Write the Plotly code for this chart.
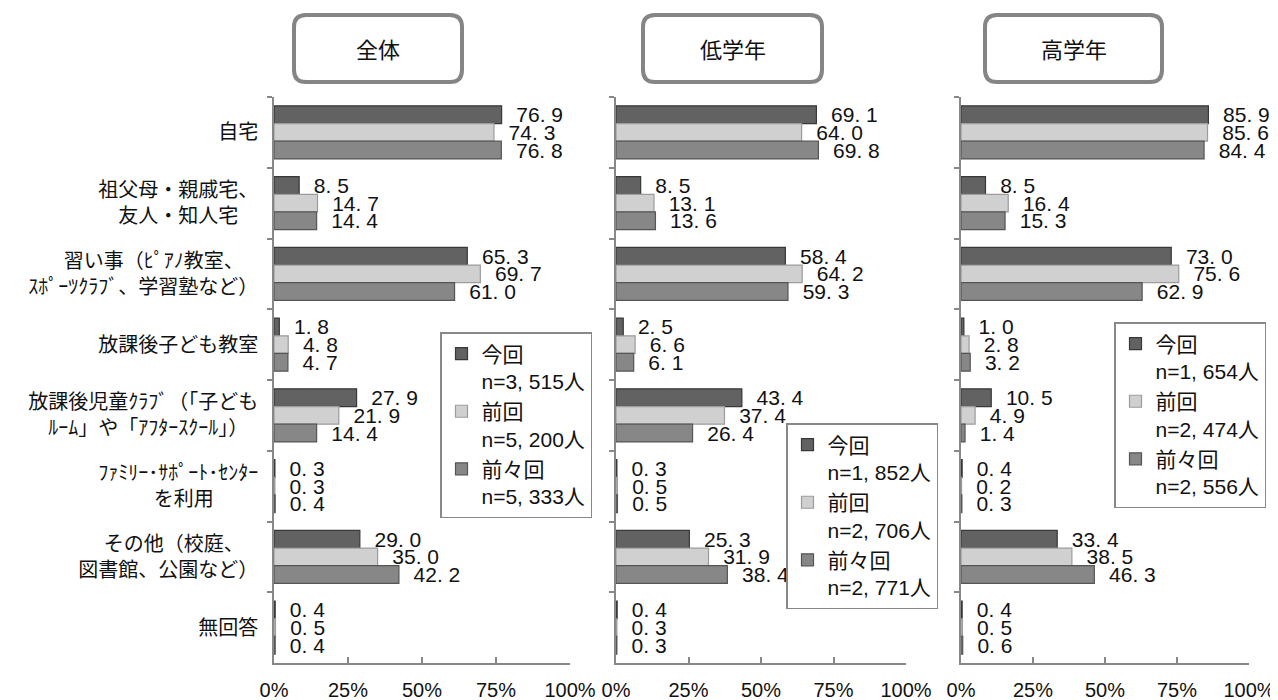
import plotly.graph_objects as go

# The page body has an 8px margin, so the figure is drawn 8px in from the window edge.
OFF = 8
W, H = 1278 - OFF, 700 - OFF

categories = [
    "自宅",
    "祖父母・親戚宅、<br>友人・知人宅\u3000",
    "習い事（ﾋﾟｱﾉ教室、\u3000\u00a0<br>ｽﾎﾟｰﾂｸﾗﾌﾞ、学習塾など）",
    "放課後子ども教室",
    "放課後児童ｸﾗﾌﾞ（「子ども<br>ﾙｰﾑ」や「ｱﾌﾀｰｽｸｰﾙ」）\u3000",
    "ﾌｧﾐﾘｰ･ｻﾎﾟｰﾄ･ｾﾝﾀｰ<br>を利用\u3000\u3000\u00a0",
    "その他（校庭、\u3000\u00a0<br>図書館、公園など）",
    "無回答",
]

series_names = ["今回", "前回", "前々回"]
panel_titles = ["全体", "低学年", "高学年"]

# 全体
all_now = [76.9, 8.5, 65.3, 1.8, 27.9, 0.3, 29.0, 0.4]
all_prev = [74.3, 14.7, 69.7, 4.8, 21.9, 0.3, 35.0, 0.5]
all_prev2 = [76.8, 14.4, 61.0, 4.7, 14.4, 0.4, 42.2, 0.4]
all_n = ["3, 515", "5, 200", "5, 333"]

# 低学年
low_now = [69.1, 8.5, 58.4, 2.5, 43.4, 0.3, 25.3, 0.4]
low_prev = [64.0, 13.1, 64.2, 6.6, 37.4, 0.5, 31.9, 0.3]
low_prev2 = [69.8, 13.6, 59.3, 6.1, 26.4, 0.5, 38.4, 0.3]
low_n = ["1, 852", "2, 706", "2, 771"]

# 高学年
high_now = [85.9, 8.5, 73.0, 1.0, 10.5, 0.4, 33.4, 0.4]
high_prev = [85.6, 16.4, 75.6, 2.8, 4.9, 0.2, 38.5, 0.5]
high_prev2 = [84.4, 15.3, 62.9, 3.2, 1.4, 0.3, 46.3, 0.6]
high_n = ["1, 654", "2, 474", "2, 556"]

x_ticks = [0, 25, 50, 75, 100]
x_tick_labels = ["0%", "25%", "50%", "75%", "100%"]

panels = [
    (all_now, all_prev, all_prev2, all_n),
    (low_now, low_prev, low_prev2, low_n),
    (high_now, high_prev, high_prev2, high_n),
]

fill_colors = ["#626262", "#d0d0d0", "#878787"]
line_colors = ["#383838", "#9c9c9c", "#555555"]

# pixel layout helpers (window pixels)
x_domains_px = [(274, 570), (616, 906), (961, 1249)]
y_top_px, y_bot_px = 97, 663
legend_pos_px = [(440, 332), (786, 423), (1114, 322)]
legend_gaps = [8, 20, 10]
title_boxes_px = [(294, 15, 462, 82), (643, 15, 822, 82), (985, 15, 1162, 82)]

NUM_FONT = "Liberation Sans Narrow, Liberation Sans, Arial, sans-serif"
JP_FONT = "Noto Sans CJK JP"


def X(v):
    return (v - OFF) / W


def Y(v):
    return 1 - (v - OFF) / H


def fmt(v):
    s = f"{v:.1f}".replace(".", ". ")
    return "\u00a0\u00a0" + s


fig = go.Figure()

for p, (a, b, c, ns) in enumerate(panels):
    xa = "x" if p == 0 else f"x{p+1}"
    ya = "y" if p == 0 else f"y{p+1}"
    lg = "legend" if p == 0 else f"legend{p+1}"
    for s, vals in enumerate([a, b, c]):
        fig.add_trace(go.Bar(
            y=categories, x=vals, orientation="h",
            name=f"{series_names[s]}<br>n={ns[s]}人",
            marker=dict(color=fill_colors[s], line=dict(color=line_colors[s], width=1.2)),
            text=[fmt(v) for v in vals],
            textposition="outside",
            constraintext="none",
            cliponaxis=False,
            textfont=dict(family=NUM_FONT, size=21, color="#111111"),
            xaxis=xa, yaxis=ya, legend=lg, legendgroup=f"g{p}{s}",
            hoverinfo="skip",
        ))

layout = dict(
    width=W, height=H,
    autosize=False,
    margin=dict(l=0, r=0, t=0, b=0, pad=0, autoexpand=False),
    paper_bgcolor="white", plot_bgcolor="white",
    barmode="group", bargap=0.25, bargroupgap=0,
    showlegend=True,
    font=dict(family=JP_FONT, size=20, color="#111111"),
)

for p in range(3):
    xk = "xaxis" if p == 0 else f"xaxis{p+1}"
    yk = "yaxis" if p == 0 else f"yaxis{p+1}"
    ya_short = "y" if p == 0 else f"y{p+1}"
    xa_short = "x" if p == 0 else f"x{p+1}"
    x0, x1 = x_domains_px[p]
    layout[xk] = dict(
        domain=[X(x0), X(x1)], range=[0, 100], anchor=ya_short,
        tickvals=x_ticks, ticktext=x_tick_labels,
        ticks="inside", ticklen=6, tickcolor="#888888", tickwidth=1.5,
        showline=True, linecolor="#888888", linewidth=1.5,
        showgrid=False, zeroline=False, automargin=False,
        tickfont=dict(family=NUM_FONT, size=20, color="#111111"),
        ticklabelstandoff=8,
    )
    layout[yk] = dict(
        domain=[Y(y_bot_px), Y(y_top_px)], anchor=xa_short,
        type="category", autorange="reversed",
        showline=True, linecolor="#888888", linewidth=1.5,
        ticks="outside", ticklen=5, tickcolor="#888888", tickwidth=1.5,
        tickson="boundaries", showgrid=False, zeroline=False,
        showticklabels=(p == 0), automargin=False,
        tickfont=dict(family=JP_FONT, size=20, color="#111111"),
        ticklabelstandoff=10,
    )
    lk = "legend" if p == 0 else f"legend{p+1}"
    lx, ly = legend_pos_px[p]
    layout[lk] = dict(
        x=X(lx), y=Y(ly), xanchor="left", yanchor="top",
        xref="paper", yref="paper",
        bgcolor="white", bordercolor="#888888", borderwidth=1.5,
        font=dict(family="Liberation Sans, " + JP_FONT, size=21, color="#111111"),
        tracegroupgap=legend_gaps[p], traceorder="normal",
        itemwidth=30, valign="top",
    )

shapes = []
annotations = []
for p, (bx0, by0, bx1, by1) in enumerate(title_boxes_px):
    r = 12
    path = (
        f"M {X(bx0 + r)},{Y(by0)} L {X(bx1 - r)},{Y(by0)} "
        f"Q {X(bx1)},{Y(by0)} {X(bx1)},{Y(by0 + r)} "
        f"L {X(bx1)},{Y(by1 - r)} Q {X(bx1)},{Y(by1)} {X(bx1 - r)},{Y(by1)} "
        f"L {X(bx0 + r)},{Y(by1)} Q {X(bx0)},{Y(by1)} {X(bx0)},{Y(by1 - r)} "
        f"L {X(bx0)},{Y(by0 + r)} Q {X(bx0)},{Y(by0)} {X(bx0 + r)},{Y(by0)} Z"
    )
    shapes.append(dict(type="path", path=path, xref="paper", yref="paper",
                       line=dict(color="#858585", width=4), fillcolor="white"))
    annotations.append(dict(
        text=panel_titles[p], x=X((bx0 + bx1) / 2), y=Y((by0 + by1) / 2),
        xref="paper", yref="paper", showarrow=False,
        font=dict(family=JP_FONT, size=22, color="#111111"),
        xanchor="center", yanchor="middle",
    ))

layout["shapes"] = shapes
layout["annotations"] = annotations

fig.update_layout(**layout)
fig.write_html("out.html")
